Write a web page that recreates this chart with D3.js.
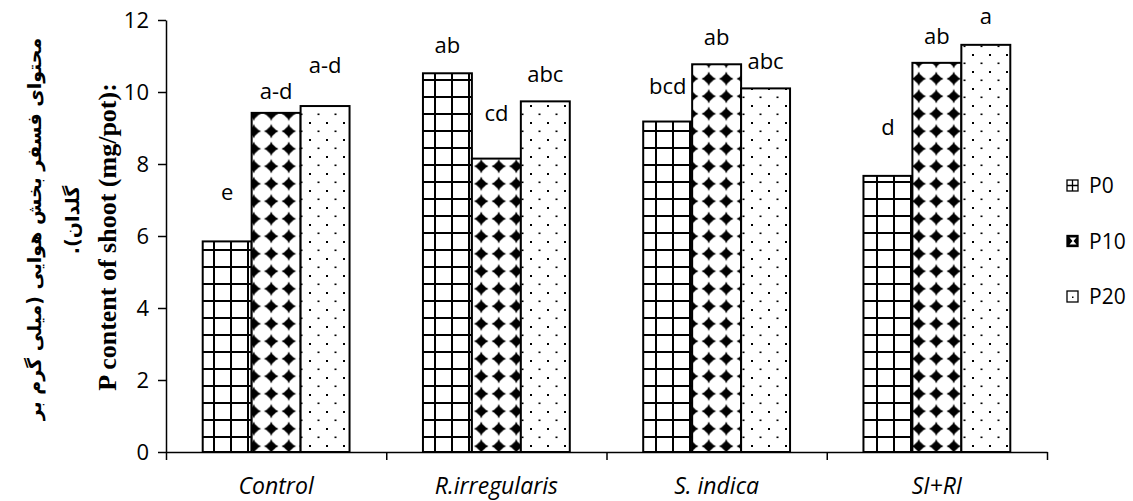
<!DOCTYPE html>
<html>
<head>
<meta charset="utf-8">
<script src="https://cdn.jsdelivr.net/npm/d3@7"></script>
<style>
  body { margin: 0; background: #fff; }
  text { font-family: "Open Sans", sans-serif; fill: #000; }
</style>
</head>
<body>
<svg id="chart" width="1133" height="501"></svg>
<script>
// chart data
var categories = ["Control", "R.irregularis", "S. indica", "SI+RI"];
var series = ["P0", "P10", "P20"];
var p0 = [5.85, 10.52, 9.18, 7.67];
var p10 = [9.42, 8.15, 10.77, 10.81];
var p20 = [9.61, 9.74, 10.1, 11.31];
// mean separation letters and the height (in mg/pot) where each sits
var p0Letters = ["e", "ab", "bcd", "d"];
var p10Letters = ["a-d", "cd", "ab", "ab"];
var p20Letters = ["a-d", "abc", "abc", "a"];
var p0LabelAt = [7.0, 11.08, 9.94, 8.8];
var p10LabelAt = [9.8, 9.2, 11.3, 11.33];
var p20LabelAt = [10.53, 10.27, 10.65, 11.9];
var yTicks = [0, 2, 4, 6, 8, 10, 12];

var svg = d3.select("#chart");

var plotLeft = 166, plotRight = 1047, plotTop = 20, plotBottom = 452;

var x = d3.scaleBand().domain(categories).range([plotLeft, plotRight]).padding(0);
var bw = x.bandwidth();
// gap width 150% -> bars take 3/4.5 of each band
var xs = d3.scaleBand().domain(series).range([bw / 6, bw - bw / 6]).padding(0);
var y = d3.scaleLinear().domain([0, 12]).range([plotBottom, plotTop]);

// fill patterns
var defs = svg.append("defs");

var grid = defs.append("pattern").attr("id", "pat0")
    .attr("patternUnits", "userSpaceOnUse")
    .attr("x", 9).attr("y", 11)
    .attr("width", 17).attr("height", 17);
grid.append("rect").attr("width", 17).attr("height", 17).attr("fill", "#fff");
grid.append("rect").attr("x", 0).attr("y", 0).attr("width", 2).attr("height", 17).attr("fill", "#000");
grid.append("rect").attr("x", 0).attr("y", 0).attr("width", 17).attr("height", 2).attr("fill", "#000");

var dia = defs.append("pattern").attr("id", "pat1")
    .attr("patternUnits", "userSpaceOnUse")
    .attr("width", 17.5).attr("height", 17.5);
dia.append("rect").attr("width", 17.5).attr("height", 17.5).attr("fill", "#fff");
dia.append("path")
    .attr("d", "M8.75,1.5 Q10,6 16,8.75 Q10,11.5 8.75,16 Q7.5,11.5 1.5,8.75 Q7.5,6 8.75,1.5Z")
    .attr("fill", "#000");
dia.append("circle").attr("cx", 8.75).attr("cy", 8.75).attr("r", 4.2).attr("fill", "#000");

var dots = defs.append("pattern").attr("id", "pat2")
    .attr("patternUnits", "userSpaceOnUse")
    .attr("width", 17).attr("height", 17);
dots.append("rect").attr("width", 17).attr("height", 17).attr("fill", "#fff");
dots.append("rect").attr("x", 3).attr("y", 3).attr("width", 2).attr("height", 2).attr("fill", "#000");
dots.append("rect").attr("x", 11.5).attr("y", 11.5).attr("width", 2).attr("height", 1.6).attr("fill", "#000");

var values = [p0, p10, p20];
var letters = [p0Letters, p10Letters, p20Letters];
var labelAt = [p0LabelAt, p10LabelAt, p20LabelAt];

var rows = [];
categories.forEach(function (c, i) {
    series.forEach(function (s, j) {
        rows.push({ cat: c, s: s, j: j, v: values[j][i], letter: letters[j][i], at: labelAt[j][i] });
    });
});

// bars
svg.append("g").selectAll("rect")
    .data(rows)
    .enter().append("rect")
    .attr("x", function (d) { return x(d.cat) + xs(d.s); })
    .attr("y", function (d) { return y(d.v); })
    .attr("width", xs.bandwidth())
    .attr("height", function (d) { return y(0) - y(d.v); })
    .attr("fill", function (d) { return "url(#pat" + d.j + ")"; })
    .attr("stroke", "#000")
    .attr("stroke-width", 2);

// letters
svg.append("g").selectAll("text")
    .data(rows)
    .enter().append("text")
    .attr("x", function (d) { return x(d.cat) + xs(d.s) + xs.bandwidth() / 2; })
    .attr("y", function (d) { return y(d.at); })
    .attr("text-anchor", "middle")
    .style("font-size", "22px")
    .text(function (d) { return d.letter; });

// y axis
var yAxis = svg.append("g")
    .attr("transform", "translate(" + plotLeft + ",0)")
    .call(d3.axisLeft(y).tickValues(yTicks).tickSize(8).tickPadding(9).tickSizeOuter(0));
yAxis.select(".domain").attr("stroke-width", 1.5);
yAxis.selectAll(".tick line").attr("stroke-width", 1.5);
yAxis.selectAll(".tick text").style("font-size", "22px").style("font-family", "Open Sans, sans-serif");

// x axis with ticks on category borders
var xb = d3.scaleLinear().domain([0, categories.length]).range([plotLeft, plotRight]);
var xAxis = svg.append("g")
    .attr("transform", "translate(0," + plotBottom + ")")
    .call(d3.axisBottom(xb).tickValues(d3.range(categories.length + 1)).tickSize(8).tickFormat("").tickSizeOuter(0));
xAxis.select(".domain").attr("stroke-width", 1.5);
xAxis.selectAll(".tick line").attr("stroke-width", 1.5);

svg.append("g").selectAll("text")
    .data(categories)
    .enter().append("text")
    .attr("x", function (d) { return x(d) + bw / 2; })
    .attr("y", 494)
    .attr("text-anchor", "middle")
    .style("font-size", "23px")
    .style("font-style", "italic")
    .text(function (d) { return d; });

// axis titles
svg.append("text")
    .attr("transform", "translate(116,237) rotate(-90)")
    .attr("text-anchor", "middle")
    .style("font-family", "'Liberation Serif', serif")
    .style("font-weight", "bold")
    .style("font-size", "26px")
    .text("P content of shoot (mg/pot):");

svg.append("text")
    .attr("transform", "translate(41,229) rotate(-90)")
    .attr("text-anchor", "middle")
    .attr("direction", "rtl")
    .style("font-family", "'DejaVu Sans', sans-serif")
    .style("font-weight", "bold")
    .style("font-size", "19px")
    .text("محتوای فسفر بخش هوایی (میلی گرم بر");

svg.append("text")
    .attr("transform", "translate(79,220) rotate(-90)")
    .attr("text-anchor", "middle")
    .attr("direction", "rtl")
    .style("font-family", "'DejaVu Sans', sans-serif")
    .style("font-weight", "bold")
    .style("font-size", "19px")
    .text("گلدان).");

// legend
var legend = svg.append("g").selectAll("g")
    .data(series)
    .enter().append("g")
    .attr("transform", function (d, i) { return "translate(1067," + (180 + i * 55.5) + ")"; });

legend.append("rect")
    .attr("width", 11).attr("height", 11)
    .attr("fill", function (d, i) { return i === 1 ? "#000" : "#fff"; })
    .attr("stroke", "#000").attr("stroke-width", 1.3);

legend.filter(function (d, i) { return i === 0; })
    .append("path").attr("d", "M5.5,0V11M0,5.5H11").attr("stroke", "#000").attr("stroke-width", 1.3);
legend.filter(function (d, i) { return i === 1; })
    .append("path").attr("d", "M2.5,2 H9.5 L6.5,5.5 L9.5,9 H2.5 L5.5,5.5Z").attr("fill", "#fff");
legend.filter(function (d, i) { return i === 2; })
    .append("rect").attr("x", 5).attr("y", 5.5).attr("width", 1.5).attr("height", 1.5).attr("fill", "#000");

legend.append("text")
    .attr("x", 22)
    .attr("y", 13)
    .style("font-size", "21px")
    .text(function (d) { return d; });
</script>
</body>
</html>
